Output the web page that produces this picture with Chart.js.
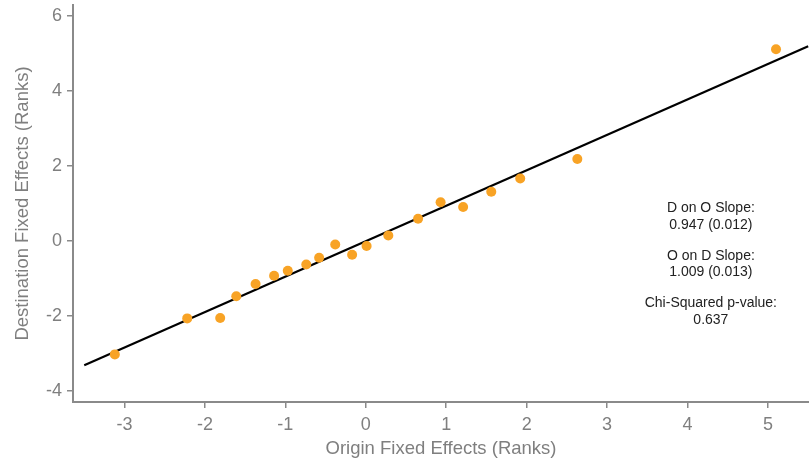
<!DOCTYPE html>
<html>
<head>
<meta charset="utf-8">
<script src="https://cdn.jsdelivr.net/npm/chart.js@4/dist/chart.umd.min.js"></script>
<style>
  html, body { margin: 0; padding: 0; background: #fff; }
  #wrap { width: 809px; height: 464px; }
</style>
</head>
<body>
<div id="wrap"><canvas id="chart"></canvas></div>
<script>
// points (origin FE rank, destination FE rank)
const originFE = [-3.12, -2.22, -1.81, -1.61, -1.37, -1.14, -0.97, -0.74, -0.58, -0.38, -0.17, 0.01, 0.28, 0.65, 0.93, 1.21, 1.56, 1.92, 2.63, 5.10];
const destFE   = [-3.03, -2.07, -2.06, -1.48, -1.15, -0.93, -0.80, -0.63, -0.45, -0.10, -0.37, -0.14, 0.14, 0.59, 1.03, 0.90, 1.31, 1.66, 2.18, 5.11];

// fitted line endpoints
const fitX = [-3.5, 5.5];
const fitY = [-3.32, 5.19];

const xTicks = [-3, -2, -1, 0, 1, 2, 3, 4, 5];
const yTicks = [-4, -2, 0, 2, 4, 6];

const noteLines = ['D on O Slope:', '0.947 (0.012)', 'O on D Slope:', '1.009 (0.013)', 'Chi-Squared p-value:', '0.637'];
// where the note sits, in data units
const noteX = 4.29;
const noteY = [0.87, 0.42, -0.40, -0.83, -1.66, -2.12];

const grey = '#7f7f7f';
const axisGrey = '#8a8a8a';
const font = "'Liberation Sans', Arial, sans-serif";

const notePlugin = {
    id: 'note',
    afterDatasetsDraw(chart) {
        const { ctx, scales } = chart;
        ctx.save();
        ctx.fillStyle = '#222';
        ctx.font = '14px ' + font;
        ctx.textAlign = 'center';
        ctx.textBaseline = 'middle';
        noteLines.forEach((t, i) => {
            ctx.fillText(t, scales.x.getPixelForValue(noteX), scales.y.getPixelForValue(noteY[i]));
        });
        ctx.restore();
    }
};

new Chart(document.getElementById('chart'), {
    type: 'scatter',
    data: {
        datasets: [
            {
                data: originFE.map((x, i) => ({ x, y: destFE[i] })),
                backgroundColor: '#f8a325',
                borderWidth: 0,
                pointRadius: 5,
                order: 1
            },
            {
                data: fitX.map((x, i) => ({ x, y: fitY[i] })),
                showLine: true,
                borderColor: '#000',
                borderWidth: 2.2,
                pointRadius: 0,
                order: 2
            }
        ]
    },
    options: {
        responsive: true,
        maintainAspectRatio: false,
        animation: false,
        layout: { autoPadding: false, padding: { top: 5, right: 0, left: 0, bottom: 0 } },
        plugins: { legend: { display: false }, tooltip: { enabled: false } },
        scales: {
            x: {
                type: 'linear',
                min: -3.64,
                max: 5.51,
                afterBuildTicks: s => { s.ticks = xTicks.map(v => ({ value: v })); },
                afterFit: s => { s.height = 62; s.paddingLeft = 0; s.paddingRight = 0; },
                border: { display: true, color: axisGrey, width: 2 },
                grid: { drawOnChartArea: false, drawTicks: true, tickLength: 6, color: axisGrey, lineWidth: 1.5 },
                ticks: { color: grey, font: { family: font, size: 18 }, padding: 6, maxRotation: 0 },
                title: { display: true, text: 'Origin Fixed Effects (Ranks)', color: grey, font: { family: font, size: 18.5 }, padding: { top: 0, bottom: 4 } }
            },
            y: {
                type: 'linear',
                min: -4.3,
                max: 6.29,
                afterBuildTicks: s => { s.ticks = yTicks.map(v => ({ value: v })); },
                afterFit: s => { s.width = 73; s.paddingTop = 0; s.paddingBottom = 0; },
                border: { display: true, color: axisGrey, width: 2 },
                grid: { drawOnChartArea: false, drawTicks: true, tickLength: 6, color: axisGrey, lineWidth: 1.5 },
                ticks: { color: grey, font: { family: font, size: 18 }, padding: 5 },
                title: { display: true, text: 'Destination Fixed Effects (Ranks)', color: grey, font: { family: font, size: 18.5 }, padding: { top: 12, bottom: 0 } }
            }
        }
    },
    plugins: [notePlugin]
});
</script>
</body>
</html>
